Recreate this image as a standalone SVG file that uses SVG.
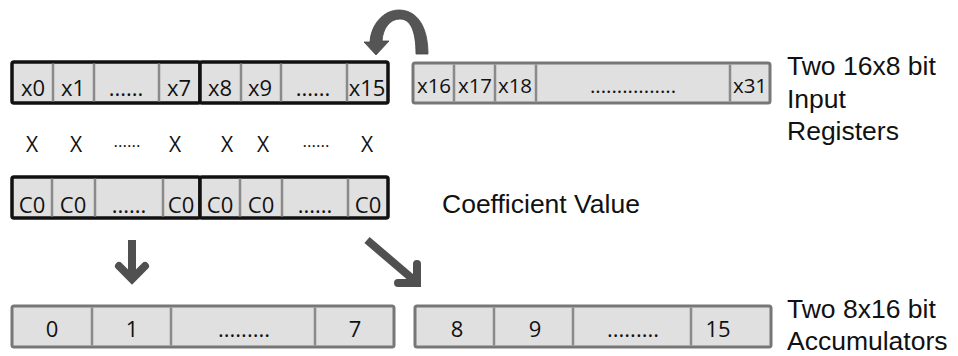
<svg xmlns="http://www.w3.org/2000/svg" width="958" height="356" viewBox="0 0 958 356">
  <style>
    .cell { font-family: "Open Sans", "Noto Sans", sans-serif; font-size: 22px; fill: #111; text-anchor: middle; }
    .small { font-size: 20.5px; }
    .label { font-family: "Liberation Sans", Arial, sans-serif; font-size: 26.5px; fill: #111; }
    .mul { font-family: "Open Sans", "Noto Sans", sans-serif; font-size: 21px; fill: #111; text-anchor: middle; }
    .dots { font-size: 17px; }
    .box { fill: #e0e0e0; }
    .bold { stroke: #111; stroke-width: 3.5; }
    .grey { stroke: #777; stroke-width: 3; }
    .div { stroke: #8a8a8a; stroke-width: 2.5; }
    .arrow { fill: none; stroke: #505050; stroke-width: 8; }
  </style>

  <rect width="958" height="356" fill="#ffffff"/>

  <!-- input register, elements x0..x7 -->
  <g id="reg-x0-x7">
    <rect class="box bold" x="12" y="62" width="188" height="41" rx="2"/>
    <line class="div" x1="53" y1="63.5" x2="53" y2="101.5"/>
    <line class="div" x1="94" y1="63.5" x2="94" y2="101.5"/>
    <line class="div" x1="159" y1="63.5" x2="159" y2="101.5"/>
    <text class="cell" x="33" y="96">x0</text>
    <text class="cell" x="73" y="96">x1</text>
    <text class="cell" x="126" y="96">......</text>
    <text class="cell" x="179" y="96">x7</text>
  </g>

  <!-- input register, elements x8..x15 -->
  <g id="reg-x8-x15">
    <rect class="box bold" x="200" y="62" width="188" height="41" rx="2"/>
    <line class="div" x1="241" y1="63.5" x2="241" y2="101.5"/>
    <line class="div" x1="281" y1="63.5" x2="281" y2="101.5"/>
    <line class="div" x1="347" y1="63.5" x2="347" y2="101.5"/>
    <text class="cell" x="220" y="96">x8</text>
    <text class="cell" x="260" y="96">x9</text>
    <text class="cell" x="313" y="96">......</text>
    <text class="cell" x="367" y="96">x15</text>
  </g>

  <!-- input register, elements x16..x31 -->
  <g id="reg-x16-x31">
    <rect class="box grey" x="413" y="63" width="357" height="40" rx="2"/>
    <line class="div" x1="454" y1="64.5" x2="454" y2="101.5"/>
    <line class="div" x1="495" y1="64.5" x2="495" y2="101.5"/>
    <line class="div" x1="536" y1="64.5" x2="536" y2="101.5"/>
    <line class="div" x1="730" y1="64.5" x2="730" y2="101.5"/>
    <text class="cell small" x="434" y="93">x16</text>
    <text class="cell small" x="475" y="93">x17</text>
    <text class="cell small" x="515" y="93">x18</text>
    <text class="cell small" x="633" y="93">................</text>
    <text class="cell small" x="750" y="93">x31</text>
  </g>

  <!-- multiply row -->
  <g id="multiply-row">
    <text class="mul" x="32" y="152">X</text>
    <text class="mul" x="76" y="152">X</text>
    <text class="mul dots" x="127" y="147">......</text>
    <text class="mul" x="175" y="152">X</text>
    <text class="mul" x="227" y="152">X</text>
    <text class="mul" x="263" y="152">X</text>
    <text class="mul dots" x="316" y="147">......</text>
    <text class="mul" x="367" y="152">X</text>
  </g>

  <!-- coefficient register, first half -->
  <g id="coef-0-7">
    <rect class="box bold" x="12" y="177" width="188" height="41" rx="2"/>
    <line class="div" x1="52" y1="178.5" x2="52" y2="216.5"/>
    <line class="div" x1="95" y1="178.5" x2="95" y2="216.5"/>
    <line class="div" x1="163" y1="178.5" x2="163" y2="216.5"/>
    <text class="cell" x="32" y="213">C0</text>
    <text class="cell" x="73" y="213">C0</text>
    <text class="cell" x="129" y="213">......</text>
    <text class="cell" x="181" y="213">C0</text>
  </g>

  <!-- coefficient register, second half -->
  <g id="coef-8-15">
    <rect class="box bold" x="200" y="177" width="188" height="41" rx="2"/>
    <line class="div" x1="240" y1="178.5" x2="240" y2="216.5"/>
    <line class="div" x1="282" y1="178.5" x2="282" y2="216.5"/>
    <line class="div" x1="348" y1="178.5" x2="348" y2="216.5"/>
    <text class="cell" x="220" y="213">C0</text>
    <text class="cell" x="261" y="213">C0</text>
    <text class="cell" x="315" y="213">......</text>
    <text class="cell" x="368" y="213">C0</text>
  </g>

  <!-- accumulator 0..7 -->
  <g id="acc-0-7">
    <rect class="box grey" x="12" y="306" width="382" height="41" rx="2"/>
    <line class="div" x1="92" y1="307.5" x2="92" y2="345.5"/>
    <line class="div" x1="171" y1="307.5" x2="171" y2="345.5"/>
    <line class="div" x1="315" y1="307.5" x2="315" y2="345.5"/>
    <text class="cell" x="52" y="337">0</text>
    <text class="cell" x="132" y="337">1</text>
    <text class="cell" x="244" y="337">.........</text>
    <text class="cell" x="355" y="337">7</text>
  </g>

  <!-- accumulator 8..15 -->
  <g id="acc-8-15">
    <rect class="box grey" x="415" y="306" width="356" height="41" rx="2"/>
    <line class="div" x1="494" y1="307.5" x2="494" y2="345.5"/>
    <line class="div" x1="573" y1="307.5" x2="573" y2="345.5"/>
    <line class="div" x1="691" y1="307.5" x2="691" y2="345.5"/>
    <text class="cell" x="457" y="337">8</text>
    <text class="cell" x="535" y="337">9</text>
    <text class="cell" x="633" y="337">.........</text>
    <text class="cell" x="718" y="337">15</text>
  </g>

  <!-- side labels -->
  <g id="label-input">
    <text class="label" x="787" y="75">Two 16x8 bit</text>
    <text class="label" x="787" y="108">Input</text>
    <text class="label" x="787" y="140">Registers</text>
  </g>
  <g id="label-coef">
    <text class="label" x="442" y="213">Coefficient Value</text>
  </g>
  <g id="label-acc">
    <text class="label" x="787" y="318">Two 8x16 bit</text>
    <text class="label" x="787" y="350">Accumulators</text>
  </g>

  <!-- connectors -->
  <g id="connectors">
    <!-- curved shift arrow from x16 back over to x15 -->
    <path d="M428 54 C428 25 416 10 399 10 C383 10 371 25 370 42 L364 42 L376 55 L389 41 L382 41 C383 28 390 19 400 19 C410 19 416 30 416 54 Z" fill="#555555" stroke="#444444" stroke-width="0.8" stroke-linejoin="round"/>
    <!-- down arrow into accumulator 0..7 -->
    <path class="arrow" d="M132 240 L132 279"/>
    <path class="arrow" d="M119 266 L132 279 L145 266" stroke-linecap="round"/>
    <!-- diagonal arrow into accumulator 8..15 -->
    <path class="arrow" d="M367 240 L415 281"/>
    <path class="arrow" d="M417 264 L417 283 L398 283" stroke-linecap="round"/>
  </g>
</svg>
